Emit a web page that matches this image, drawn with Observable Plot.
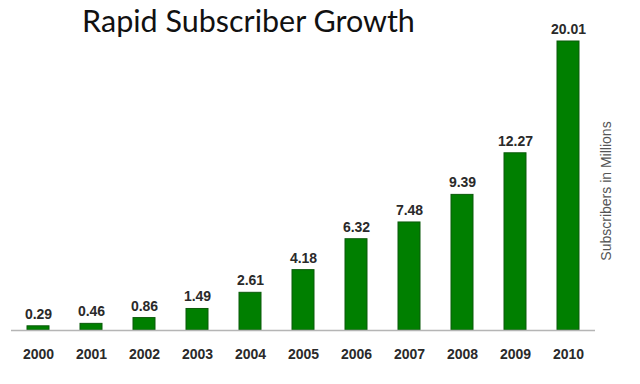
<!DOCTYPE html>
<html>
<head>
<meta charset="utf-8">
<script src="https://cdn.jsdelivr.net/npm/d3@7"></script>
<script src="https://cdn.jsdelivr.net/npm/@observablehq/plot@0.6"></script>
<style>
  html, body { margin: 0; padding: 0; background: #fff; }
</style>
</head>
<body>
<script>
const title = "Rapid Subscriber Growth";
const years = ["2000","2001","2002","2003","2004","2005","2006","2007","2008","2009","2010"];
const subscribers = [0.29, 0.46, 0.86, 1.49, 2.61, 4.18, 6.32, 7.48, 9.39, 12.27, 20.01];
const valueLabels = ["0.29","0.46","0.86","1.49","2.61","4.18","6.32","7.48","9.39","12.27","20.01"];
const yLabel = "Subscribers in Millions";

const data = years.map((y, i) => ({year: y, value: subscribers[i], label: valueLabels[i]}));

const chart = Plot.plot({
  width: 640,
  height: 384,
  marginLeft: 11,
  marginRight: 45,
  marginTop: 41,
  marginBottom: 54,
  style: {fontFamily: "'Liberation Sans', Arial, sans-serif", background: "#fff"},
  x: {domain: years, paddingInner: 0.586, paddingOuter: 0.293, label: null},
  y: {domain: [0, d3.max(subscribers)], axis: null},
  marks: [
    Plot.barY(data, {x: "year", y: "value", fill: "#007f00", stroke: "#0a5a0a", strokeWidth: 1}),
    Plot.ruleY([0], {stroke: "#b5b5b5", strokeWidth: 1.5}),
    Plot.text(data, {x: "year", y: "value", text: "label", lineAnchor: "middle", dy: -12,
                     fontSize: 14, fontWeight: "bold", fill: "#2a2a2a"}),
    Plot.axisX({tickSize: 0, tickPadding: 19, fontSize: 14, fontWeight: "bold", color: "#2a2a2a", label: null}),
    Plot.text([yLabel], {frameAnchor: "right", text: d => d, rotate: -90, textAnchor: "middle",
                         dx: 11, dy: 5, fontSize: 14, fill: "#555"}),
    Plot.text([title], {frameAnchor: "top-left", text: d => d, textAnchor: "middle", lineAnchor: "bottom",
                        dx: 237, dy: -10, fontSize: 30.5, fontFamily: "Lato, 'Open Sans', sans-serif", fill: "#111"})
  ]
});
document.body.appendChild(chart);
</script>
</body>
</html>
